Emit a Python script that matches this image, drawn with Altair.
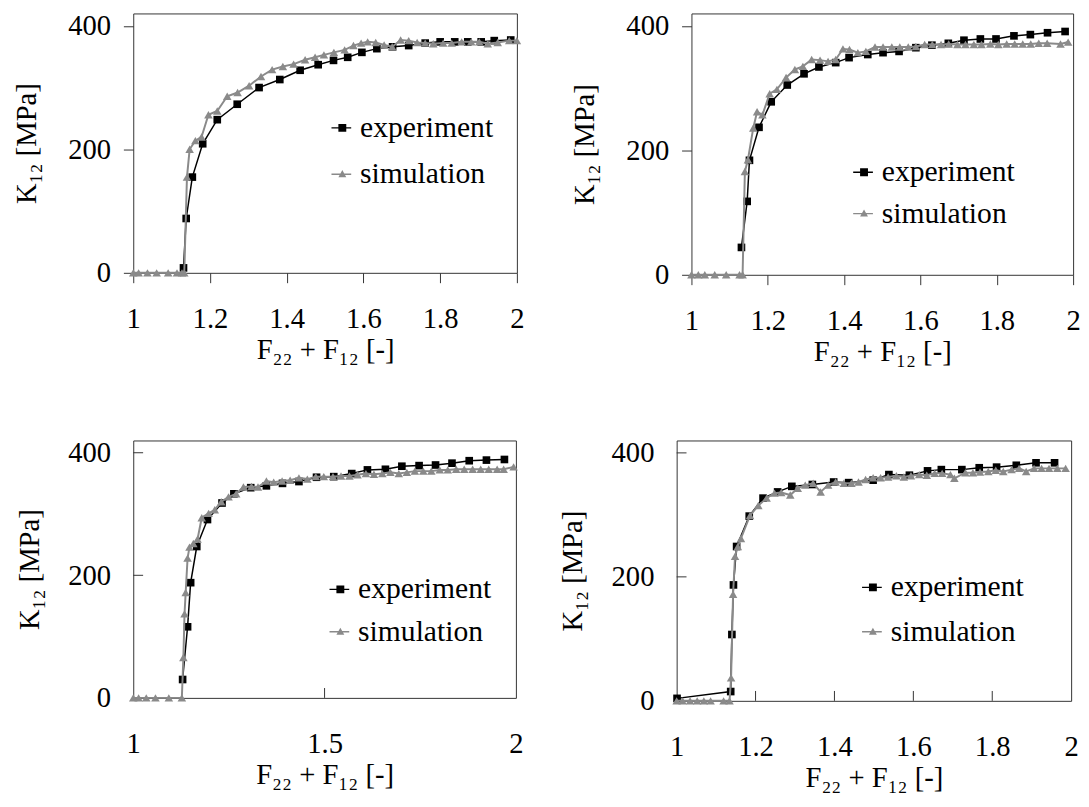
import altair as alt
import pandas as pd

# ---------------- data ----------------
# Panel 1 (top left)
p1_exp_x = [1.131, 1.138, 1.154, 1.181, 1.219, 1.271, 1.328, 1.382, 1.435, 1.482, 1.522,
            1.559, 1.596, 1.635, 1.676, 1.718, 1.761, 1.800, 1.838, 1.872, 1.907, 1.941, 1.984]
p1_exp_y = [8, 88, 155, 209, 248, 273, 300, 313, 328, 337, 344,
            349, 357, 363, 366, 368, 372, 374, 374, 374, 374, 376, 377]
p1_sim_x = [1.0, 1.014, 1.037, 1.061, 1.091, 1.114, 1.127, 1.133, 1.140, 1.147, 1.162,
            1.178, 1.196, 1.219, 1.245, 1.272, 1.302, 1.333, 1.362, 1.390, 1.418, 1.448,
            1.474, 1.497, 1.523, 1.551, 1.574, 1.594, 1.611, 1.632, 1.654, 1.675, 1.697,
            1.718, 1.740, 1.761, 1.782, 1.808, 1.830, 1.856, 1.881, 1.902, 1.924, 1.950,
            1.980, 2.0]
p1_sim_y = [0, 0, 0, 0, 0, 0, 0, 0, 155, 200, 214,
            220, 256, 262, 286, 292, 303, 318, 329, 334, 338, 345,
            349, 353, 357, 361, 368, 372, 374, 373, 369, 366, 377,
            376, 373, 372, 371, 372, 372, 374, 374, 374, 371, 373,
            376, 376]

# Panel 2 (top right)
p2_exp_x = [1.131, 1.146, 1.152, 1.177, 1.209, 1.251, 1.295, 1.334, 1.378, 1.413, 1.462,
            1.502, 1.544, 1.588, 1.630, 1.673, 1.714, 1.757, 1.798, 1.845, 1.888, 1.933, 1.979]
p2_exp_y = [44, 118, 184, 237, 278, 305, 323, 334, 341, 349, 354,
            357, 359, 365, 369, 372, 377, 379, 379, 384, 386, 389, 391]
p2_sim_x = [1.0, 1.018, 1.035, 1.061, 1.091, 1.126, 1.134, 1.140, 1.148, 1.162, 1.172,
            1.186, 1.205, 1.224, 1.248, 1.271, 1.292, 1.315, 1.337, 1.358, 1.378, 1.397,
            1.414, 1.436, 1.457, 1.481, 1.502, 1.525, 1.546, 1.568, 1.588, 1.611, 1.631,
            1.654, 1.674, 1.697, 1.718, 1.740, 1.760, 1.783, 1.804, 1.826, 1.847, 1.868,
            1.889, 1.910, 1.932, 1.967, 1.987]
p2_sim_y = [0, 0, 0, 0, 0, 0, 0, 166, 185, 236, 262,
            257, 291, 298, 317, 330, 335, 346, 345, 343, 346, 363,
            362, 357, 359, 366, 366, 366, 366, 366, 367, 370, 370,
            370, 371, 370, 370, 370, 370, 371, 370, 371, 371, 371,
            371, 372, 372, 371, 374]

# Panel 3 (bottom left)
p3_exp_x = [1.129, 1.142, 1.150, 1.166, 1.194, 1.232, 1.263, 1.307, 1.348, 1.390, 1.433,
            1.479, 1.524, 1.571, 1.612, 1.659, 1.702, 1.747, 1.790, 1.833, 1.878, 1.923, 1.970]
p3_exp_y = [30, 116, 188, 247, 291, 318, 333, 343, 346, 350, 353,
            360, 361, 366, 372, 373, 378, 379, 380, 383, 387, 388, 389]
p3_sim_x = [1.0, 1.014, 1.034, 1.058, 1.093, 1.127, 1.131, 1.134, 1.137, 1.142, 1.147,
            1.157, 1.168, 1.179, 1.197, 1.213, 1.230, 1.249, 1.269, 1.288, 1.309, 1.326,
            1.348, 1.367, 1.389, 1.410, 1.433, 1.455, 1.477, 1.498, 1.522, 1.543, 1.565,
            1.586, 1.608, 1.629, 1.651, 1.672, 1.694, 1.715, 1.736, 1.758, 1.779, 1.801,
            1.822, 1.844, 1.865, 1.887, 1.908, 1.929, 1.951, 1.968, 1.994]
p3_sim_y = [0, 0, 0, 0, 0, 0, 66, 137, 172, 228, 246,
            252, 259, 294, 301, 307, 320, 328, 333, 344, 345, 344,
            354, 352, 354, 355, 359, 357, 361, 361, 361, 362, 362,
            364, 366, 365, 366, 368, 366, 368, 370, 370, 370, 372,
            372, 373, 373, 373, 373, 373, 373, 373, 377]

# Panel 4 (bottom right)
p4_exp_x = [1.001, 1.137, 1.140, 1.144, 1.152, 1.184, 1.219, 1.256, 1.292, 1.344, 1.398,
            1.436, 1.498, 1.538, 1.590, 1.636, 1.671, 1.723, 1.767, 1.811, 1.861, 1.911, 1.958]
p4_exp_y = [4, 15, 107, 187, 249, 298, 327, 337, 346, 349, 353,
            352, 356, 365, 364, 371, 373, 373, 376, 377, 380, 384, 384]
p4_sim_x = [1.0, 1.015, 1.034, 1.052, 1.069, 1.086, 1.119, 1.134, 1.138, 1.143, 1.148,
            1.155, 1.163, 1.186, 1.207, 1.228, 1.248, 1.265, 1.288, 1.307, 1.326, 1.346,
            1.365, 1.384, 1.403, 1.424, 1.443, 1.461, 1.479, 1.498, 1.517, 1.536, 1.557,
            1.576, 1.594, 1.615, 1.634, 1.654, 1.673, 1.694, 1.704, 1.732, 1.751, 1.769,
            1.790, 1.809, 1.828, 1.849, 1.868, 1.886, 1.906, 1.925, 1.944, 1.965, 1.986]
p4_sim_y = [0, 0, 0, 0, 0, 0, 0, 0, 37, 172, 233,
            249, 262, 299, 315, 327, 335, 336, 332, 343, 348, 351,
            337, 348, 353, 351, 351, 353, 357, 360, 360, 361, 363,
            361, 363, 365, 364, 367, 367, 365, 359, 368, 368, 369,
            370, 372, 370, 373, 375, 370, 375, 375, 375, 375, 375]

series_names = ["experiment", "simulation"]
x_ticks_fine = [1, 1.2, 1.4, 1.6, 1.8, 2]
x_ticks_coarse = [1, 1.5, 2]
y_ticks = [0, 200, 400]
y_inner_ticks = [200, 400]

# ---------------- styling ----------------
FONT = "Liberation Serif, Times New Roman, DejaVu Serif, serif"
EXP_COLOR = "#000000"
SIM_COLOR = "#8a8a8a"
FRAME = "#333333"
X_TITLE = "F\u2082\u2082 + F\u2081\u2082 [-]"
Y_TITLE = "K\u2081\u2082 [MPa]"
EXP_PATH = "M-1,-0.07H1V0.07H-1Z M-0.3,-0.4H0.5V0.4H-0.3Z"
SIM_PATH = "M-1,-0.07H1V0.07H-1Z M-0.3,0.3L0.1,-0.42L0.5,0.3Z"


def panel(ex, ey, sx, sy, w, h, xticks, outward, leg_x, leg_y, row_pad, ytitle_pad):
    assert len(ex) == len(ey) and len(sx) == len(sy)
    df_e = pd.DataFrame({"x": ex, "y": ey, "i": list(range(len(ex)))})
    df_s = pd.DataFrame({"x": sx, "y": sy, "i": list(range(len(sx)))})
    xs = alt.Scale(domain=[1, 2], nice=False, zero=False)
    ys = alt.Scale(domain=[0, 420], nice=False, zero=True)
    common = dict(grid=False, domain=False, labelFont=FONT, titleFont=FONT,
                  labelFontSize=29, titleFontSize=29, labelColor="black",
                  titleColor="black", titleFontWeight="normal", tickColor=FRAME,
                  tickWidth=1, labelFlush=False, labelOverlap=False)
    if outward:
        xax = alt.Axis(values=xticks, format="~g", title=X_TITLE, ticks=True, tickSize=10,
                       labelPadding=22, titlePadding=3, **common)
        yax = alt.Axis(values=y_ticks, title=Y_TITLE, ticks=True, tickSize=10,
                       labelPadding=13, titlePadding=ytitle_pad, **common)
    else:
        xax = alt.Axis(values=xticks, format="~g", title=X_TITLE, ticks=False,
                       labelPadding=32, titlePadding=3, **common)
        yax = alt.Axis(values=y_ticks, title=Y_TITLE, ticks=False,
                       labelPadding=23, titlePadding=ytitle_pad, **common)
    X = alt.X("x:Q", scale=xs, axis=xax)
    Y = alt.Y("y:Q", scale=ys, axis=yax)

    exp_line = alt.Chart(df_e).mark_line(color=EXP_COLOR, strokeWidth=1.5).encode(
        x=X, y=Y, order="i:Q")
    exp_pts = alt.Chart(df_e).mark_point(shape="square", filled=True, color=EXP_COLOR,
                                         size=60, opacity=1).encode(x=X, y=Y)
    sim_line = alt.Chart(df_s).mark_line(color=SIM_COLOR, strokeWidth=2).encode(
        x=X, y=Y, order="i:Q")
    sim_pts = alt.Chart(df_s).mark_point(shape="triangle-up", filled=True, color=SIM_COLOR,
                                         size=75, opacity=1).encode(x=X, y=Y)

    leg = alt.Legend(orient="none", legendX=leg_x, legendY=leg_y, title=None,
                     labelFont=FONT, labelFontSize=30, labelColor="black",
                     symbolSize=400, symbolStrokeWidth=0, symbolOpacity=1,
                     labelOffset=4, rowPadding=row_pad)
    leg_df = pd.DataFrame({"x": [1.5, 1.5], "y": [0, 0], "s": series_names})
    legend_layer = alt.Chart(leg_df).transform_filter("datum.x > 5").mark_point(
        filled=True).encode(
        x=X, y=Y,
        color=alt.Color("s:N", scale=alt.Scale(domain=series_names,
                                               range=[EXP_COLOR, SIM_COLOR]), legend=leg),
        shape=alt.Shape("s:N", scale=alt.Scale(domain=series_names,
                                               range=[EXP_PATH, SIM_PATH]), legend=leg),
    )

    layers = [exp_line, exp_pts, sim_line, sim_pts, legend_layer]
    if not outward:
        yt = pd.DataFrame({"y": y_inner_ticks})
        inner = [v for v in xticks if v not in (1, 2)]
        xt = pd.DataFrame({"x": inner})
        layers.append(alt.Chart(yt).mark_rule(color=FRAME, strokeWidth=1).encode(
            y=Y, x=alt.value(0), x2=alt.value(10)))
        layers.append(alt.Chart(xt).mark_rule(color=FRAME, strokeWidth=1).encode(
            x=X, y=alt.value(h), y2=alt.value(h - 10)))
    return alt.layer(*layers).properties(width=w, height=h)


p1 = panel(p1_exp_x, p1_exp_y, p1_sim_x, p1_sim_y, 389, 263, x_ticks_fine, True,
           196, 101, 17, 27)
p2 = panel(p2_exp_x, p2_exp_y, p2_sim_x, p2_sim_y, 387, 265, x_ticks_fine, True,
           159, 146, 12, 27)
p3 = panel(p3_exp_x, p3_exp_y, p3_sim_x, p3_sim_y, 388, 261, x_ticks_coarse, False,
           194, 136, 13, 24)
p4 = panel(p4_exp_x, p4_exp_y, p4_sim_x, p4_sim_y, 400, 264, x_ticks_fine, False,
           183, 134, 15, 24)

row1 = alt.hconcat(p1, p2, spacing=46).resolve_scale(color="independent", shape="independent")
row2 = alt.hconcat(p3, p4, spacing=35).resolve_scale(color="independent", shape="independent")

chart = alt.vconcat(row1, row2, spacing=71).resolve_scale(
    color="independent", shape="independent"
).properties(
    padding={"left": 4, "top": -2, "right": 0, "bottom": 0},
    background="white"
).configure_view(
    stroke=FRAME, strokeWidth=1
).configure_axis(
    domain=False, grid=False, labelFont=FONT, titleFont=FONT,
    labelFontSize=29, titleFontSize=29, labelColor="black", titleColor="black",
    titleFontWeight="normal", tickColor=FRAME, tickWidth=1
).configure_legend(
    labelFont=FONT
)

chart.save("out.html", embed_options={"renderer": "svg", "actions": False})
